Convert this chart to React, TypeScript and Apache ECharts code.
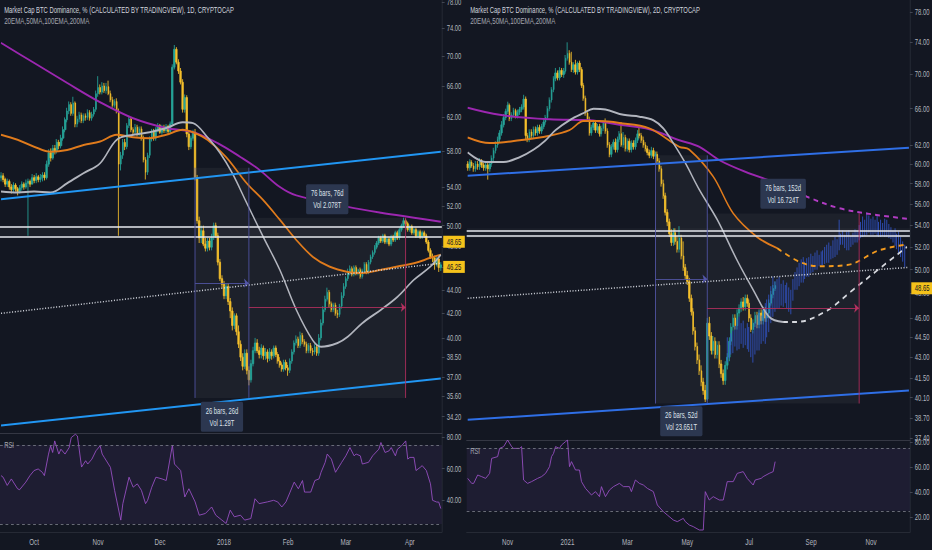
import React, { useEffect, useRef } from "react";
import * as echarts from "echarts";

// The reference is a horizontally squeezed TradingView screenshot: draw at 1350 px and squeeze to 932.
const W = 1350;
const H = 550;
const SX = 932 / W;
const FONT = "'Liberation Sans', Arial, sans-serif";
const L = Math.log;

// ---------- LEFT PANEL (1D, Sep 2017 - Apr 2018) ----------
const LEFT_START = "2017-09-15";
const LEFT_SLOTS = 214;
const LEFT_OPEN0 = 55.0;
const LEFT_CLOSE = [
  55.2,54.8,54.3,54.6,54.0,53.7,54.2,53.8,53.5,53.9,
  54.3,54.0,54.4,54.6,54.3,55.0,54.7,55.1,54.8,55.0,
  55.3,55.0,56.5,57.8,57.2,58.3,58.0,59.0,58.6,59.5,
  60.5,61.7,62.8,63.6,62.5,63.8,61.2,61.8,62.3,61.6,
  62.2,62.0,62.6,61.9,62.4,63.0,65.0,65.8,65.2,66.0,
  65.4,65.9,65.0,64.2,63.5,64.0,62.8,56.5,57.5,59.0,
  58.5,61.0,61.8,60.5,60.2,60.8,60.0,60.6,59.5,57.0,
  55.6,57.5,59.4,60.3,59.5,60.5,61.0,60.2,60.8,60.4,
  60.9,60.3,61.2,68.5,71.0,69.2,68.0,66.5,63.0,64.5,
  60.0,58.5,59.5,60.2,55.0,50.5,48.8,49.5,48.2,47.8,
  48.5,47.9,48.9,50.0,49.0,46.5,45.0,44.5,43.5,44.3,
  43.0,42.2,41.0,41.8,40.5,39.5,38.5,37.8,38.8,37.5,
  36.8,38.0,39.0,39.6,39.0,38.7,39.2,38.6,38.9,38.4,
  38.9,38.6,39.2,38.7,38.2,37.9,37.6,38.1,37.7,37.5,
  38.2,38.9,39.6,39.9,39.4,40.2,39.7,39.5,39.0,39.4,
  39.0,38.9,39.3,38.8,40.0,41.2,42.3,43.2,43.8,42.8,
  42.3,42.7,42.0,41.9,42.6,43.5,44.3,45.0,45.6,45.9,
  45.4,46.0,45.5,45.8,45.2,45.7,46.3,45.6,46.5,47.0,
  47.4,47.9,48.3,48.8,48.5,49.0,48.4,48.7,48.2,48.9,
  48.6,49.3,48.8,49.6,50.0,50.5,50.2,49.6,49.9,49.3,
  49.6,49.0,49.4,48.9,49.3,49.0,48.4,47.6,47.0,46.9,
  46.3,46.8,46.0,46.25,
];
const LEFT_HIGH = [
  55.6,55.5,55.0,54.9,54.8,54.3,54.5,54.4,54.0,54.2,
  54.6,54.5,54.8,54.9,54.8,55.4,55.3,55.5,55.3,55.4,
  55.6,55.6,56.9,58.2,58.3,58.7,58.7,59.4,59.3,59.9,
  60.9,62.0,63.2,64.0,63.9,64.6,64.0,62.2,62.7,62.6,
  62.5,62.5,63.0,62.9,62.7,63.3,65.4,67.3,66.2,66.5,
  66.4,66.4,66.7,65.4,64.6,64.3,64.4,63.1,57.9,59.4,
  59.4,61.3,62.2,62.0,60.8,61.2,61.1,60.9,60.9,59.8,
  57.3,57.8,59.7,60.6,60.6,60.8,61.3,61.2,61.1,61.1,
  61.2,61.1,61.5,68.9,71.6,71.3,69.6,68.4,66.9,64.9,
  64.8,60.4,59.8,60.5,60.6,55.3,50.9,50.0,50.0,48.8,
  48.8,48.8,49.2,50.3,50.3,49.3,46.8,45.3,44.8,44.6,
  44.6,43.3,42.5,42.0,42.0,41.0,39.8,38.8,39.1,39.1,
  37.8,38.3,39.3,40.0,39.9,39.3,39.5,39.4,39.2,39.1,
  39.2,39.1,39.4,39.4,38.9,38.5,38.1,38.3,38.3,37.9,
  38.4,39.1,39.8,40.2,40.1,40.5,40.4,39.9,39.7,39.6,
  39.6,39.2,39.5,39.5,40.3,41.5,42.6,43.5,44.2,44.0,
  43.0,42.9,42.9,42.3,42.8,43.8,44.6,45.2,45.9,46.2,
  46.1,46.2,46.2,45.9,46.0,45.9,46.5,46.5,46.7,47.2,
  47.6,48.1,48.5,49.0,49.0,49.2,49.2,48.9,48.9,49.1,
  49.1,49.5,49.5,49.8,50.2,50.8,50.7,50.4,50.1,50.1,
  49.8,49.8,49.6,49.6,49.5,49.5,49.2,48.6,47.8,47.3,
  47.1,47.0,47.0,46.5,
];
const LEFT_LOW = [
  54.6,54.5,54.0,54.0,53.7,53.3,53.4,53.5,53.1,53.3,
  53.6,53.7,53.8,49.0,54.0,54.3,54.4,54.4,54.5,54.5,
  54.6,54.7,54.8,56.2,56.8,57.0,57.6,57.7,58.2,58.3,
  59.2,60.2,61.4,62.4,62.2,62.2,60.8,60.8,61.4,61.3,
  61.3,61.6,61.7,61.6,61.6,62.1,62.7,64.6,64.9,64.9,
  65.1,65.0,64.8,63.9,63.2,63.2,62.5,49.0,55.8,57.1,
  58.1,58.2,60.7,60.2,59.8,59.9,59.7,59.7,59.2,56.7,
  54.8,55.3,57.2,59.1,59.2,59.2,60.2,60.0,59.9,60.1,
  60.1,60.0,60.0,61.0,68.2,68.9,67.6,66.2,62.6,62.6,
  59.6,58.1,58.2,59.2,54.7,50.2,48.3,48.3,48.0,47.5,
  47.5,47.6,47.6,48.6,48.8,46.2,44.8,44.2,43.2,43.2,
  42.7,41.6,40.6,40.7,40.2,39.2,38.2,37.5,37.6,37.2,
  36.4,36.6,37.8,38.8,38.8,38.4,38.4,38.3,38.3,38.1,
  38.2,38.3,38.4,38.5,38.0,37.7,37.4,37.4,37.5,37.1,
  37.3,38.0,38.7,39.4,39.2,39.2,39.5,39.3,38.8,38.8,
  38.8,38.6,38.7,38.6,38.6,39.8,41.0,42.1,43.0,42.5,
  42.1,42.1,41.8,41.6,41.7,42.4,43.3,44.1,44.8,45.3,
  45.2,45.2,45.3,45.3,45.0,45.0,45.5,45.4,45.4,46.3,
  46.8,47.2,47.7,48.1,48.3,48.3,48.2,48.2,48.0,48.0,
  48.4,48.4,48.6,48.6,49.4,49.8,50.0,49.4,49.4,49.1,
  49.1,48.8,48.8,48.7,48.7,48.8,48.2,47.4,46.8,46.5,
  45.8,46.1,45.6,45.7,
];
// moving averages: [bar index, value]
const LEFT_MA200 = [[0,71.9],[16,69.1],[32,66.4],[48,63.9],[64,61.9],[80,60.7],[93,60.2],[105,58.9],[116,57.3],[125,55.9],[135,54.0],[143,53.1],[168,51.9],[184,51.3],[200,50.8],[213,50.4]];
const LEFT_EMA100 = [[0,59.9],[8,59.3],[16,58.5],[24,57.9],[32,58.1],[40,58.7],[48,59.1],[56,59.9],[64,59.6],[72,59.5],[80,59.9],[88,60.5],[93,60.2],[100,59.3],[109,57.3],[119,54.4],[127,52.6],[135,50.6],[143,48.6],[151,47.0],[159,46.1],[168,45.6],[175,45.5],[184,45.8],[192,46.1],[200,46.4],[208,46.9],[213,47.2]];
const LEFT_MA50 = [[0,53.5],[8,53.4],[16,53.5],[24,53.4],[32,54.4],[40,55.5],[48,56.6],[56,59.3],[64,59.9],[72,60.2],[80,60.7],[88,61.4],[93,61.3],[100,59.6],[106,57.8],[112,55.5],[119,52.3],[127,48.9],[135,45.8],[143,42.3],[151,39.8],[155,39.3],[163,39.6],[168,40.1],[175,41.2],[184,42.3],[192,43.4],[200,44.9],[208,46.1],[213,47.2]];
const LEFT_RSI = [[0,55.6],[1,54.6],[3,49.4],[5,53.5],[8,47.3],[9,46.7],[12,51.5],[14,55.6],[16,58.8],[18,59.8],[20,57.7],[21,55.6],[23,69.2],[24,74.4],[25,70.2],[26,77.5],[28,69.2],[29,72.3],[31,69.2],[33,73.3],[34,79.6],[36,81.7],[37,80.6],[39,61],[41,65],[42,62.9],[44,66],[46,71.3],[48,74.4],[49,69.2],[50,67.1],[52,62.9],[53,60.8],[55,46.3],[58,27.5],[59,37.9],[62,54.6],[64,48.3],[66,50.4],[68,46.3],[70,37.9],[71,40],[73,48.3],[75,54.6],[78,53.5],[80,52.5],[83,74.8],[84,62.9],[87,58.8],[89,42.1],[91,47.3],[94,39],[96,30.6],[99,31.7],[102,35.8],[104,30.6],[107,27.5],[109,25.4],[111,33.8],[113,29.6],[116,30.6],[118,27.5],[121,28.5],[123,41],[125,37.9],[129,39],[132,40],[134,39],[136,35.8],[138,39],[140,45.2],[142,51.5],[144,47.3],[146,52.5],[147,45.2],[150,45.2],[152,52.5],[154,53.5],[155,57.7],[157,64],[158,69.2],[160,66],[162,57.7],[165,64],[167,68.1],[169,73.3],[171,68.1],[172,69.2],[174,68.1],[175,62.9],[178,64],[180,68.1],[183,72.3],[184,76.5],[186,70.2],[188,71.3],[189,73.3],[191,68.1],[192,72.3],[194,74.4],[196,77.5],[197,66],[198,67.1],[200,67.1],[201,58.8],[203,60.8],[204,61.9],[206,58.8],[208,50.4],[209,40],[211,38.9],[212,38.9],[213,34.8]];
const LEFT_YTICKS = [78, 74, 70, 66, 62, 58, 54, 52, 50, 48, 46, 44, 42, 40, 38.5, 37, 35.6, 34.2];
const LEFT_XTICKS = ["Oct", "Nov", "Dec", "2018", "Feb", "Mar", "Apr"];

// ---------- RIGHT PANEL (2D, Sep 2020 - Dec 2021) ----------
const RIGHT_START = "2020-09-23";
const RIGHT_SLOTS = 222;
const RIGHT_OPEN0 = 60.0;
const RIGHT_CLOSE = [
  59.6,60.2,59.8,59.5,60.0,59.7,60.3,59.9,59.6,59.9,
  59.5,60.0,60.6,61.4,62.0,62.6,63.3,64.2,65.0,65.7,
  66.4,64.9,65.3,65.8,65.2,65.6,65.9,66.2,67.1,63.0,
  62.6,63.4,63.0,63.7,63.3,63.9,63.5,64.0,64.5,65.0,
  66.0,67.0,68.2,69.5,70.2,69.6,70.5,70.0,70.4,72.0,
  72.6,71.5,70.6,71.2,70.3,71.4,70.6,68.7,67.2,65.5,
  64.8,63.3,63.9,64.4,63.6,64.0,63.2,63.8,64.4,63.5,
  62.0,61.0,61.8,62.3,61.5,62.6,63.2,62.0,62.8,61.6,
  62.4,61.5,62.2,61.8,62.5,63.2,63.0,62.5,62.0,61.6,
  61.2,60.9,61.4,60.8,61.0,60.3,59.5,58.0,56.8,55.2,
  54.3,53.2,52.4,53.3,52.5,51.8,52.8,51.2,50.2,49.5,
  49.0,47.6,46.5,45.0,43.8,42.8,42.0,41.2,40.6,40.0,
  45.6,44.6,43.5,44.2,43.2,43.9,42.5,41.8,41.3,42.4,
  43.0,44.2,45.3,46.0,45.4,46.4,46.8,47.3,46.9,47.6,
  47.2,46.0,45.1,45.6,46.2,45.5,46.4,45.8,46.6,46.0,
  46.4,47.2,47.9,48.4,48.65,
];
const RIGHT_HIGH = [
  60.3,60.5,60.4,60.1,60.3,60.3,60.6,60.5,60.1,60.1,
  60.1,60.3,60.9,61.7,62.4,62.9,63.6,64.6,65.4,66.0,
  66.8,66.6,65.6,66.1,66.0,65.9,66.2,66.5,67.6,67.4,
  63.3,63.7,63.7,64.0,64.0,64.2,64.2,64.3,64.8,65.3,
  66.3,67.3,68.5,69.8,70.8,70.5,70.9,70.8,70.8,72.4,
  74.0,73.0,72.8,71.5,71.8,71.6,71.7,70.9,69.0,67.5,
  65.8,65.1,64.2,64.7,64.7,64.3,64.3,64.1,64.7,64.9,
  63.8,62.3,62.1,62.6,62.7,62.9,63.5,64.5,63.4,63.1,
  62.7,62.7,62.5,62.5,62.8,63.6,63.9,63.3,62.9,62.3,
  61.9,61.5,61.8,61.7,61.3,61.3,60.6,59.8,58.4,57.1,
  55.5,54.6,53.6,53.7,53.7,53.0,53.9,53.1,52.5,50.5,
  49.9,49.3,47.9,46.8,45.3,44.1,43.2,42.4,41.5,41.0,
  46.0,46.1,44.9,44.6,44.5,44.2,44.2,42.8,42.1,42.7,
  43.3,44.5,45.6,46.3,46.3,46.7,47.1,47.6,47.7,47.9,
  47.9,47.5,46.3,45.9,46.5,46.5,46.7,46.7,46.9,46.9,
  46.7,47.5,48.2,48.7,49.0,
];
const RIGHT_LOW = [
  59.3,59.3,59.6,59.2,59.2,59.4,59.4,59.6,59.3,59.3,
  58.4,59.2,59.7,60.3,61.1,61.7,62.3,63.0,63.9,64.7,
  65.4,64.6,64.6,65.0,64.9,64.9,65.3,65.6,65.9,62.5,
  62.3,62.3,62.7,62.7,63.0,63.0,63.2,63.2,63.7,64.2,
  64.7,65.7,66.7,67.9,69.2,69.3,69.3,69.7,69.6,70.1,
  71.7,71.2,70.3,70.2,70.0,70.0,70.3,68.4,66.9,65.2,
  64.5,63.0,63.0,63.6,63.3,63.3,62.9,62.9,63.5,63.2,
  61.7,60.7,60.7,61.5,61.2,61.2,62.3,61.8,61.7,61.3,
  61.3,61.2,61.2,61.5,61.5,62.2,62.7,62.2,61.7,61.3,
  60.9,60.6,60.6,60.5,60.5,60.0,59.2,57.7,56.5,54.9,
  53.9,52.9,52.1,52.1,52.2,51.5,51.5,50.9,49.9,49.2,
  48.7,47.3,46.2,44.7,43.5,42.5,41.7,40.9,40.3,39.8,
  39.9,44.3,43.2,43.2,42.9,42.9,42.2,41.5,41.0,41.0,
  42.1,42.7,43.9,45.0,45.1,45.1,46.1,46.5,46.6,46.6,
  46.9,45.7,44.9,44.8,45.3,45.2,45.2,45.5,45.5,45.7,
  45.7,46.1,47.0,47.6,48.2,
];
// projected "bars pattern" (HL bars), first bar index and high / low values
const PROJ_START = 130;
const PROJ_HIGH = [
  44.5,44.2,44.8,45.0,45.4,45.9,46.1,45.6,45.8,45.2,
  45.6,45.3,44.8,45.0,45.7,46.3,46.6,46.2,46.9,47.2,
  47.5,47.9,48.6,49.4,49.0,49.2,49.4,48.8,49.1,48.7,
  48.9,48.5,48.3,49.2,49.8,50.2,50.6,50.9,51.1,50.7,
  51.0,51.1,51.4,51.2,51.5,51.7,51.3,51.6,51.7,52.0,
  52.2,52.4,52.1,52.6,52.9,52.7,54.5,53.2,53.5,53.1,
  53.4,53.5,53.0,53.3,53.6,53.5,54.0,54.3,54.8,54.5,
  55.2,54.9,54.6,54.8,54.5,54.9,54.3,54.5,54.2,54.6,
  54.5,54.1,53.8,53.5,53.7,53.2,53.4,52.9,52.5,52.2,
];
const PROJ_LOW = [
  42.6,42.9,43.2,43.3,43.8,43.5,43.6,44.0,43.7,43.9,
  43.6,43.4,43.0,42.6,43.2,43.5,43.5,44.0,44.2,44.0,
  44.5,44.9,45.6,46.1,46.5,46.8,46.8,47.0,46.9,47.2,
  46.8,46.5,46.3,47.4,48.3,48.3,48.6,48.9,48.9,49.2,
  49.4,49.4,49.7,49.8,50.0,50.0,50.3,50.4,50.4,50.5,
  50.6,50.6,50.9,51.0,51.1,51.3,51.7,52.2,52.2,51.9,
  51.7,51.7,52.0,52.2,52.4,52.4,52.6,52.8,52.9,53.0,
  53.1,53.3,53.1,53.1,53.2,53.0,52.9,52.9,53.0,52.9,
  52.9,52.8,52.7,52.4,52.1,51.8,51.4,51.1,50.7,50.2,
];
const RIGHT_MA200 = [[0,66.1],[16,65.3],[41,64.8],[61,64.7],[76,64.2],[91,63.7],[106,62.5],[116,61.8],[126,60.4],[139,59.2],[153,58.2],[156,58.0]];
const RIGHT_MA200_PROJ = [[156,58.0],[170,56.7],[186,55.6],[203,55.0],[220,54.6]];
const RIGHT_EMA100 = [[0,62.8],[11,62.2],[26,62.5],[41,63.0],[51,63.6],[58,64.6],[66,64.6],[76,64.4],[91,63.8],[106,61.8],[111,61.5],[123,58.7],[133,55.1],[145,52.9],[155,51.9]];
const RIGHT_EMA100_PROJ = [[155,51.9],[166,50.7],[176,50.3],[190,50.4],[206,51.7],[219,52.2]];
const RIGHT_MA50 = [[0,61.2],[9,60.2],[18,60.2],[26,60.7],[33,61.5],[39,62.5],[44,63.6],[51,64.7],[58,65.5],[63,66.0],[69,65.9],[78,65.3],[86,65.1],[93,64.7],[98,63.8],[103,62.2],[109,60.1],[116,57.4],[125,54.5],[135,50.8],[143,48.3],[151,46.1],[158,45.7]];
const RIGHT_MA50_PROJ = [[158,45.7],[165,45.7],[180,46.6],[193,48.3],[207,50.2],[220,52.0]];
const RIGHT_RSI = [[0,50.9],[2,46.9],[3,46.9],[5,53.6],[7,52.3],[9,50.9],[11,54.9],[12,66.9],[15,68.3],[16,74.9],[18,76.3],[20,81.6],[22,76.3],[23,74.9],[26,74.9],[27,76.3],[28,49.6],[30,46.9],[32,48.3],[35,50.9],[37,52.3],[39,54.9],[41,60.3],[42,68.3],[43,70.9],[44,76.3],[46,74.9],[47,77.6],[49,80.3],[50,81.6],[51,60.3],[52,64.3],[54,57.6],[56,57.6],[57,48.3],[59,42.9],[62,37.6],[64,40.3],[66,36.3],[67,44.3],[69,36.3],[71,41.6],[73,44.3],[76,46.9],[78,44.3],[81,44.3],[82,40.3],[84,49.6],[86,46.9],[88,45.6],[90,42.9],[93,40.3],[95,29.6],[98,24.3],[100,21.6],[103,17.6],[105,16.3],[108,18.9],[109,16.3],[111,13.6],[113,12.3],[116,9.6],[118,9.6],[119,40.3],[121,33.6],[123,36.3],[126,33.6],[128,33.6],[130,48.3],[133,48.3],[135,54.9],[138,56.3],[140,50.9],[143,45.6],[144,49.6],[147,50.9],[148,52.3],[151,54.9],[153,56.3],[154,64.3]];
const RIGHT_YTICKS = [78, 74, 70, 66, 62, 60, 58, 56, 54, 52, 50, 48, 46, 44.5, 43, 41.5, 40.1, 38.7, 37.4];
const RIGHT_XTICKS = ["Nov", "2021", "Mar", "May", "Jul", "Sep", "Nov"];

const LEFT_RSI_TICKS = [40, 60, 80];
const RIGHT_RSI_TICKS = [20, 40, 60, 80];

// ---------- colours ----------
const BG = "#131722";
const UP = "#26a69a";
const DOWN = "#f7c12c";
const PURPLE = "#9c27b0";
const ORANGE = "#e07b1c";
const GREY = "#b2b5be";
const RSI_C = "#9c52c9";
const TXT = "#b2b5be";
const VIOLET = "#5356a8";
const RED = "#b5305f";
const BOXFILL = "rgba(255,255,255,0.045)";
const TAG = "#f5c21b";

function makeDates(start: string, n: number, step: number) {
  const t0 = Date.parse(start + "T00:00:00Z");
  return Array.from({ length: n }, (_, i) => new Date(t0 + i * step * 86400000).toISOString().slice(0, 10));
}

function monthTicks(dates: string[], labels: string[], keep: (m: number) => boolean) {
  const map: Record<number, string> = {};
  let k = 0;
  let prev = +dates[0].slice(5, 7);
  dates.forEach((d, i) => {
    const m = +d.slice(5, 7);
    if (i > 0 && m !== prev && keep(m - 1) && k < labels.length) map[i] = labels[k++];
    prev = m;
  });
  return map;
}

function candles(open0: number, close: number[], high: number[], low: number[]) {
  return close.map((c, i) => [i === 0 ? open0 : close[i - 1], c, low[i], high[i]].map(L));
}

const lnPts = (pts: number[][]) => pts.map(([i, v]) => [i, L(v)]);

function buildOption() {
  const ldates = makeDates(LEFT_START, LEFT_SLOTS, 1);
  const rdates = makeDates(RIGHT_START, RIGHT_SLOTS, 2);
  const lmap = monthTicks(ldates, LEFT_XTICKS, () => true);
  const rmap = monthTicks(rdates, RIGHT_XTICKS, (m) => m % 2 === 0);

  const grids = [
    { left: 0, top: 0, width: 640, height: 433 },
    { left: 0, top: 433, width: 640, height: 99 },
    { left: 676, top: 0, width: 642, height: 440 },
    { left: 676, top: 440, width: 642, height: 92 },
  ].map((g) => ({ ...g, containLabel: false, outerBoundsMode: "none", show: false }));

  const xAxis = (gi: number, dates: string[], map: Record<number, string> | null, lineColor: string) => ({
    type: "category",
    gridIndex: gi,
    data: dates,
    boundaryGap: true,
    axisLine: { show: true, lineStyle: { color: lineColor, width: 1 } },
    axisTick: { show: false },
    splitLine: { show: false },
    axisLabel: map
      ? {
          show: true,
          color: TXT,
          fontSize: 9,
          fontFamily: FONT,
          margin: 6,
          hideOverlap: false,
          interval: (i: number) => map[i] !== undefined,
          formatter: (_v: string, i: number) => map[i] ?? "",
        }
      : { show: false },
  });

  const priceY = (gi: number, min: number, max: number, ticks: number[]) => {
    const cv = ticks.map(L);
    return {
      type: "value",
      gridIndex: gi,
      position: "right",
      min: L(min),
      max: L(max),
      splitLine: { show: false },
      axisLine: { show: true, lineStyle: { color: "#2a2e39" } },
      axisTick: { show: true, length: 4, lineStyle: { color: "#4a4e5a" }, customValues: cv },
      axisLabel: {
        color: TXT,
        fontSize: 8.5,
        fontFamily: FONT,
        margin: 7,
        customValues: cv,
        formatter: (v: number) => Math.exp(v).toFixed(2),
      },
    };
  };
  const rsiY = (gi: number, min: number, max: number, ticks: number[]) => ({
    type: "value",
    gridIndex: gi,
    position: "right",
    min,
    max,
    splitLine: { show: false },
    axisLine: { show: true, lineStyle: { color: "#2a2e39" } },
    axisTick: { show: true, length: 4, lineStyle: { color: "#4a4e5a" }, customValues: ticks },
    axisLabel: {
      color: TXT,
      fontSize: 8.5,
      fontFamily: FONT,
      margin: 7,
      customValues: ticks,
      formatter: (v: number) => v.toFixed(2),
    },
  });

  const candleSeries = (gi: number, data: number[][]) => ({
    type: "candlestick",
    xAxisIndex: gi,
    yAxisIndex: gi,
    data,
    barWidth: "70%",
    z: 2,
    silent: true,
    itemStyle: { color: UP, color0: DOWN, borderColor: UP, borderColor0: DOWN, borderWidth: 1 },
  });

  const maLine = (gi: number, pts: number[][], color: string, dashed = false) => ({
    type: "line",
    xAxisIndex: gi,
    yAxisIndex: gi,
    data: lnPts(pts),
    symbol: "none",
    showSymbol: false,
    smooth: 0.35,
    z: 3,
    silent: true,
    lineStyle: { color, width: 2, type: dashed ? [7, 6] : "solid" },
  });

  const seg = (x1: number, y1: number, x2: number, y2: number, color: string, width = 1, type: any = "solid", arrow = false) => [
    { coord: [x1, L(y1)], symbol: "none", lineStyle: { color, width, type } },
    { coord: [x2, L(y2)], symbol: arrow ? "arrow" : "none", symbolSize: arrow ? 7 : 0, lineStyle: { color, width, type } },
  ];
  const hline = (v: number, color: string, width = 1.5) => ({ yAxis: L(v), lineStyle: { color, width, type: "solid" } });
  const tag = (v: number, text: string) => ({
    yAxis: L(v),
    lineStyle: { color: "rgba(0,0,0,0)", width: 0 },
    label: {
      show: true,
      position: "end",
      distance: 2,
      formatter: text,
      color: "#131722",
      backgroundColor: TAG,
      padding: [2, 5, 1, 5],
      fontSize: 8.5,
      fontFamily: FONT,
      opacity: 1,
    },
  });
  const rangeLabel = (x: number, y: number, text: string) => ({
    coord: [x, L(y)],
    value: 0,
    label: {
      show: true,
      position: "inside",
      formatter: text,
      color: "#dfe2ea",
      fontSize: 8.5,
      fontFamily: FONT,
      lineHeight: 12,
      backgroundColor: "#2c3750",
      padding: [3, 7],
      borderRadius: 2,
      align: "center",
    },
  });

  const annoBack = (gi: number, boxes: number[][][], band: number[]) => ({
    type: "line",
    xAxisIndex: gi,
    yAxisIndex: gi,
    data: [],
    z: 1,
    silent: true,
    markArea: {
      silent: true,
      data: [
        ...boxes.map(([[x1, y1], [x2, y2]]) => [{ coord: [x1, L(y1)], itemStyle: { color: BOXFILL } }, { coord: [x2, L(y2)] }]),
        [{ yAxis: L(band[0]), itemStyle: { color: "rgba(255,255,255,0.03)" } }, { yAxis: L(band[1]) }],
      ],
    },
  });

  const annoFront = (gi: number, lines: any[], points: any[]) => ({
    type: "line",
    xAxisIndex: gi,
    yAxisIndex: gi,
    data: [],
    z: 4,
    silent: true,
    markLine: { silent: true, symbol: ["none", "none"], label: { show: false }, data: lines },
    markPoint: { silent: true, symbol: "rect", symbolSize: 1, itemStyle: { color: "rgba(0,0,0,0)" }, data: points },
  });

  const rsiSeries = (gi: number, data: number[][]) => ({
    type: "line",
    xAxisIndex: gi,
    yAxisIndex: gi,
    data,
    symbol: "none",
    showSymbol: false,
    silent: true,
    z: 3,
    lineStyle: { color: RSI_C, width: 1 },
    markArea: { silent: true, data: [[{ yAxis: 25, itemStyle: { color: "rgba(126,87,194,0.10)" } }, { yAxis: 75 }]] },
    markLine: {
      silent: true,
      symbol: ["none", "none"],
      label: { show: false },
      lineStyle: { color: "#787b86", type: [4, 4], width: 1 },
      data: [{ yAxis: 75 }, { yAxis: 25 }],
    },
  });

  const projData = PROJ_HIGH.map((h, k) => [PROJ_START + k, PROJ_LOW[k], h, PROJ_LOW[k], h].map((v, j) => (j === 0 ? v : L(v))));

  const series: any[] = [
    // left price pane
    annoBack(0, [[[94, 56.1], [120, 35.5]], [[120, 50.8], [196, 35.5]]], [49.0, 50.0]),
    candleSeries(0, candles(LEFT_OPEN0, LEFT_CLOSE, LEFT_HIGH, LEFT_LOW)),
    maLine(0, LEFT_MA200, PURPLE),
    maLine(0, LEFT_EMA100, ORANGE),
    maLine(0, LEFT_MA50, GREY),
    annoFront(
      0,
      [
        seg(0, 52.7, 213, 57.9, "#2196f3", 2),
        seg(0, 33.6, 213, 36.9, "#2196f3", 2),
        seg(0, 42.0, 213, 46.4, "#d1d4dc", 1.5, [1.5, 2.5]),
        hline(50.0, "#e6e8ee"),
        hline(49.0, "#e6e8ee"),
        seg(94, 56.1, 94, 35.5, VIOLET),
        seg(120, 56.1, 120, 35.5, VIOLET),
        seg(94, 44.6, 120, 44.6, VIOLET, 1, "solid", true),
        seg(196, 50.8, 196, 35.5, RED),
        seg(120, 42.5, 196, 42.5, RED, 1, "solid", true),
        tag(48.65, "48.65"),
        tag(46.25, "46.25"),
      ],
      [rangeLabel(107, 34.2, "26 bars, 26d\nVol 1.29T"), rangeLabel(158, 52.7, "76 bars, 76d\nVol 2.078T")]
    ),
    // left RSI
    rsiSeries(1, LEFT_RSI),
    // right price pane
    annoBack(2, [[[94, 60.9], [120, 39.7]], [[120, 55.1], [196, 39.7]]], [52.8, 53.7]),
    candleSeries(2, candles(RIGHT_OPEN0, RIGHT_CLOSE, RIGHT_HIGH, RIGHT_LOW)),
    {
      type: "candlestick",
      xAxisIndex: 2,
      yAxisIndex: 2,
      data: projData,
      encode: { x: 0, y: [1, 2, 3, 4] },
      barWidth: "42%",
      z: 2,
      silent: true,
      itemStyle: { color: "#3357d1", color0: "#3357d1", borderColor: "#3357d1", borderColor0: "#3357d1", borderWidth: 1, opacity: 0.95 },
    },
    maLine(2, RIGHT_MA200, PURPLE),
    maLine(2, RIGHT_MA200_PROJ, "#b23cc4", true),
    maLine(2, RIGHT_EMA100, ORANGE),
    maLine(2, RIGHT_EMA100_PROJ, "#f39a1e", true),
    maLine(2, RIGHT_MA50, GREY),
    maLine(2, RIGHT_MA50_PROJ, "#d6d8de", true),
    annoFront(
      2,
      [
        seg(0, 58.8, 221, 61.7, "#2f6fe6", 2),
        seg(0, 38.6, 221, 40.6, "#2f6fe6", 2),
        seg(0, 47.6, 221, 50.2, "#d1d4dc", 1.5, [1.5, 2.5]),
        hline(53.7, "#e6e8ee"),
        hline(52.8, "#e6e8ee"),
        seg(94, 60.9, 94, 39.7, VIOLET),
        seg(120, 60.9, 120, 39.7, VIOLET),
        seg(94, 49.2, 120, 49.2, VIOLET, 1, "solid", true),
        seg(196, 55.1, 196, 39.7, RED),
        seg(120, 46.8, 196, 46.8, RED, 1, "solid", true),
        tag(48.65, "48.65"),
      ],
      [rangeLabel(107, 38.5, "26 bars, 52d\nVol 23.651T"), rangeLabel(158, 57.0, "76 bars, 152d\nVol 16.724T")]
    ),
    // right RSI
    rsiSeries(3, RIGHT_RSI),
  ];

  const text = (x: number, y: number, t: string, size: number, fill: string) => ({
    type: "text",
    x,
    y,
    silent: true,
    z: 10,
    style: { text: t, fill, fontSize: size, fontFamily: FONT, verticalAlign: "middle", align: "left" },
  });

  return {
    animation: false,
    backgroundColor: BG,
    textStyle: { fontFamily: FONT },
    grid: grids,
    xAxis: [
      xAxis(0, ldates, null, "#3a3e4a"),
      xAxis(1, ldates, lmap, "#2a2e39"),
      xAxis(2, rdates, null, "#3a3e4a"),
      xAxis(3, rdates, rmap, "#2a2e39"),
    ],
    yAxis: [
      priceY(0, 33.11, 78.3, LEFT_YTICKS),
      rsiY(1, 20, 82.5, LEFT_RSI_TICKS),
      priceY(2, 37.28, 79.6, RIGHT_YTICKS),
      rsiY(3, 8, 81.6, RIGHT_RSI_TICKS),
    ],
    series,
    graphic: [
      text(6, 10, "Market Cap BTC Dominance, % (CALCULATED BY TRADINGVIEW), 1D, CRYPTOCAP", 8.5, "#d1d4dc"),
      text(6, 21.5, "20EMA,50MA,100EMA,200MA", 9, "#a3a6af"),
      text(681, 10, "Market Cap BTC Dominance, % (CALCULATED BY TRADINGVIEW), 2D, CRYPTOCAP", 8.5, "#d1d4dc"),
      text(681, 21.5, "20EMA,50MA,100EMA,200MA", 9, "#a3a6af"),
      text(6, 445, "RSI", 8.5, "#a3a6af"),
      text(681, 451, "RSI", 8.5, "#a3a6af"),
    ],
  };
}

export default function App() {
  const ref = useRef<HTMLDivElement>(null);
  useEffect(() => {
    document.body.style.margin = "0";
    document.body.style.background = BG;
    document.body.style.overflow = "hidden";
    const chart = echarts.init(ref.current as HTMLDivElement, undefined, { renderer: "svg", width: W, height: H });
    chart.setOption(buildOption() as any);
    return () => chart.dispose();
  }, []);
  return (
    <div
      ref={ref}
      style={{
        position: "fixed",
        left: 0,
        top: 0,
        width: W,
        height: H,
        transform: `scaleX(${SX})`,
        transformOrigin: "0 0",
        background: BG,
      }}
    />
  );
}
